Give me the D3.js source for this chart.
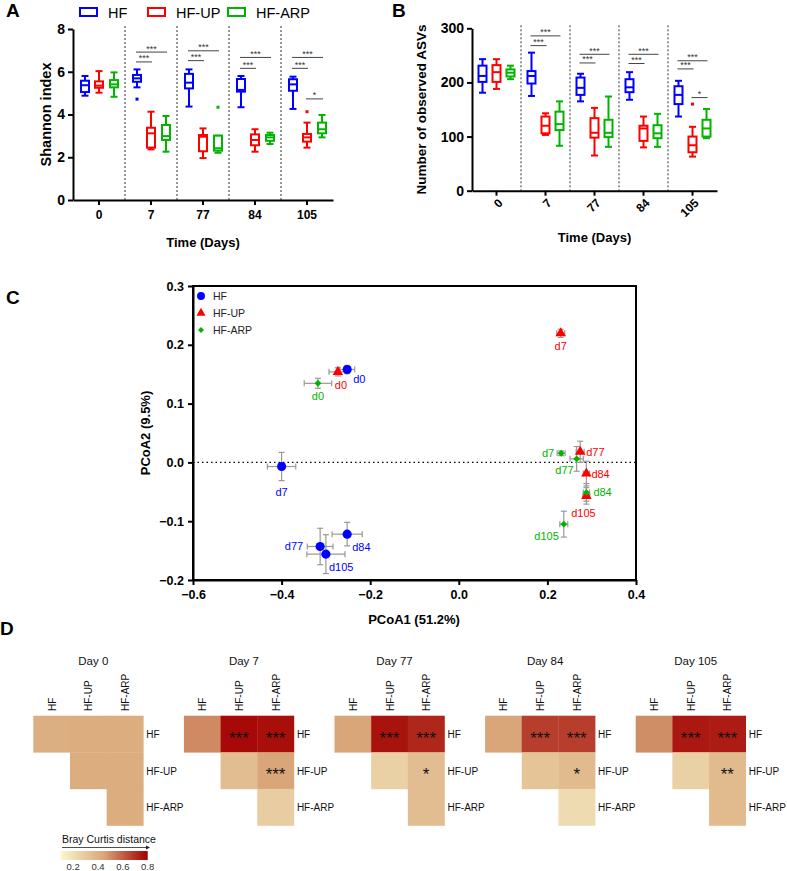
<!DOCTYPE html>
<html><head><meta charset="utf-8">
<script src="https://cdn.jsdelivr.net/npm/d3@7"></script>
<style>body{margin:0;background:#fff;} svg{font-family:"Liberation Sans",Arial,sans-serif;}</style>
</head><body><svg id="c" width="787" height="871"></svg>
<script>
// ---------- DATA ----------
const days = ["0","7","77","84","105"];
const groups = ["HF","HF-UP","HF-ARP"];
const groupColors = ["#0000ff","#ff0000","#00b400"];

// Panel A: Shannon index, [min, q1, median, q3, max] per day
const shannonHF  = [[4.88,5.05,5.37,5.58,5.80],[5.27,5.53,5.69,5.85,6.11],[4.37,5.22,5.49,5.90,6.11],[4.34,5.07,5.15,5.66,5.80],[4.26,5.11,5.41,5.65,5.77]];
const shannonUP  = [[5.02,5.25,5.35,5.55,6.03],[2.37,2.45,3.12,3.38,4.13],[1.96,2.28,2.96,3.04,3.35],[2.26,2.56,2.81,3.07,3.31],[2.45,2.73,2.93,3.09,3.62]];
const shannonARP = [[4.83,5.27,5.41,5.61,5.97],[2.26,2.81,2.99,3.51,3.93],[2.21,2.31,2.42,3.01,3.01],[2.62,2.77,2.93,3.04,3.15],[2.93,3.12,3.31,3.62,3.98]];
const shannonOutliers = [[1,0,4.72],[2,2,4.34],[4,1,4.13]]; // [day index, group index, value]
const shannonSig = [[1,0,1,6.46,"***"],[1,0,2,6.92,"***"],[2,0,1,6.52,"***"],[2,0,2,6.98,"***"],
                    [3,0,1,6.16,"***"],[3,0,2,6.67,"***"],[4,0,1,6.16,"***"],[4,0,2,6.67,"***"],[4,1,2,4.73,"*"]];
const shannonTicks = [0,2,4,6,8];

// Panel B: observed ASVs, [min, q1, median, q3, max] per day
const asvHF  = [[181,201,212,231,243],[175,198,212,221,255],[165,177,190,209,216],[168,182,191,206,219],[137,160,177,193,203]];
const asvUP  = [[188,201,219,232,243],[103,106,120,137,143],[65,98,107,134,153],[80,92,115,120,137],[63,71,84,100,118]];
const asvARP = [[206,211,218,224,231],[83,112,123,146,165],[81,99,107,131,174],[81,97,106,121,142],[97,100,115,131,151]];
const asvOutliers = [[4,1,160]];
const asvSig = [[1,0,1,268,"***"],[1,0,2,286,"***"],[2,0,1,236,"***"],[2,0,2,252,"***"],
                [3,0,1,235,"***"],[3,0,2,252,"***"],[4,0,1,225,"***"],[4,0,2,240,"***"],[4,1,2,172,"*"]];
const asvTicks = [0,100,200,300];

// Panel C: PCoA centroids with error bars
const pcoaDays = ["d0","d7","d77","d84","d105"];
const hfX  = [-0.252,-0.400,-0.313,-0.252,-0.300];
const hfY  = [0.158,-0.007,-0.143,-0.122,-0.156];
const hfXerr = [0.017,0.032,0.029,0.034,0.043];
const hfYerr = [0.007,0.024,0.031,0.020,0.033];
const upX  = [-0.273,0.230,0.274,0.288,0.288];
const upY  = [0.154,0.2195,0.018,-0.019,-0.057];
const upXerr = [0.020,0.009,0.009,0.007,0.008];
const upYerr = [0.007,0.007,0.018,0.021,0.014];
const arpX = [-0.318,0.231,0.266,0.288,0.237];
const arpY = [0.1345,0.0155,0.006,-0.051,-0.105];
const arpXerr = [0.031,0.009,0.015,0.007,0.009];
const arpYerr = [0.0085,0.004,0.021,0.015,0.022];
const pcoaXTicks = [-0.6,-0.4,-0.2,0.0,0.2,0.4];
const pcoaYTicks = [-0.2,-0.1,0.0,0.1,0.2,0.3];

// Panel D: Bray Curtis distance, upper triangle [HF-HF, HF-UP, HF-ARP, UP-UP, UP-ARP, ARP-ARP]
const heatDays = ["Day 0","Day 7","Day 77","Day 84","Day 105"];
const brayDay0   = [0.41,0.42,0.42,0.42,0.42,0.42];
const brayDay7   = [0.51,0.78,0.77,0.35,0.45,0.28];
const brayDay77  = [0.45,0.76,0.72,0.27,0.35,0.35];
const brayDay84  = [0.45,0.67,0.67,0.32,0.36,0.22];
const brayDay105 = [0.50,0.75,0.74,0.27,0.36,0.36];
const sigDay0   = ["","","","","",""];
const sigDay7   = ["","***","***","","***",""];
const sigDay77  = ["","***","***","","*",""];
const sigDay84  = ["","***","***","","*",""];
const sigDay105 = ["","***","***","","**",""];
const colorbarTicks = [0.2,0.4,0.6,0.8];

// ---------- DRAW ----------
const svg = d3.select("#c");
const FONT = '"Liberation Sans",Arial,sans-serif';

function panelLetter(t,x,y){svg.append("text").attr("x",x).attr("y",y).attr("font-size",19).attr("font-weight","bold").text(t);}
panelLetter("A",6,17); panelLetter("B",392,17); panelLetter("C",6,304); panelLetter("D",0,635);

function styleAxis(g){
  g.selectAll(".domain").attr("stroke","#000").attr("stroke-width",2);
  g.selectAll(".tick line").attr("stroke","#000").attr("stroke-width",2);
  g.selectAll(".tick text").attr("font-family",FONT).attr("font-weight","bold").attr("fill","#000");
}

function boxPanel(o){
  const g = svg.append("g");
  const x = d3.scaleBand().domain(days).range([o.x0,o.x1]);
  const y = d3.scaleLinear().domain(o.domain).range([o.yBot,o.yTop]);
  const bw = x.bandwidth();
  const cx = (di,gi)=> x(days[di]) + bw/2 + o.offsets[gi];
  for(let i=1;i<days.length;i++){
    g.append("line").attr("x1",x(days[i])).attr("x2",x(days[i])).attr("y1",o.yTop-3).attr("y2",o.yBot)
     .attr("stroke","#333").attr("stroke-width",1).attr("stroke-dasharray","2,2");
  }
  o.data.forEach((series,gi)=>{
    series.forEach((s,di)=>{
      const c = cx(di,gi), col = groupColors[gi], hw = o.boxW/2, cw=3.5;
      const bg = g.append("g").attr("stroke",col).attr("stroke-width",2).attr("fill","none");
      bg.append("line").attr("x1",c).attr("x2",c).attr("y1",y(s[0])).attr("y2",y(s[1]));
      bg.append("line").attr("x1",c).attr("x2",c).attr("y1",y(s[3])).attr("y2",y(s[4]));
      bg.append("line").attr("x1",c-cw).attr("x2",c+cw).attr("y1",y(s[0])).attr("y2",y(s[0]));
      bg.append("line").attr("x1",c-cw).attr("x2",c+cw).attr("y1",y(s[4])).attr("y2",y(s[4]));
      bg.append("rect").attr("x",c-hw).attr("width",o.boxW).attr("y",y(s[3])).attr("height",Math.max(0.5,y(s[1])-y(s[3]))).attr("fill","#fff");
      bg.append("line").attr("x1",c-hw).attr("x2",c+hw).attr("y1",y(s[2])).attr("y2",y(s[2]));
    });
  });
  o.outliers.forEach(([di,gi,v])=>{
    g.append("rect").attr("x",cx(di,gi)-1.5).attr("y",y(v)-1.5).attr("width",3).attr("height",3).attr("fill",groupColors[gi]);
  });
  o.sig.forEach(([di,g1,g2,v,lab])=>{
    const a = cx(di,g1)-1, b = cx(di,g2)+1;
    g.append("line").attr("x1",a).attr("x2",b).attr("y1",y(v)).attr("y2",y(v)).attr("stroke","#444").attr("stroke-width",1);
    g.append("text").attr("x",(a+b)/2).attr("y",y(v)-0.5).attr("text-anchor","middle").attr("font-size",9).attr("fill","#333").text(lab);
  });
  const ay = g.append("g").attr("transform",`translate(${o.x0},0)`)
    .call(d3.axisLeft(y).tickValues(o.ticks).tickSize(5).tickSizeOuter(0).tickPadding(3));
  styleAxis(ay); ay.selectAll(".tick text").attr("font-size",14);
  const ax = g.append("g").attr("transform",`translate(0,${o.yBot})`)
    .call(d3.axisBottom(x).tickSize(5).tickSizeOuter(0).tickPadding(5));
  styleAxis(ax); ax.selectAll(".tick text").attr("font-size",12);
  if(o.rotate){
    ax.selectAll(".tick text").attr("text-anchor","end").attr("dy","0.35em")
      .attr("transform","translate(4,10) rotate(-45)").attr("x",0).attr("y",0);
  }
  g.append("text").attr("transform",`translate(${o.yTitleX},${(o.yTop+o.yBot)/2}) rotate(-90)`)
    .attr("text-anchor","middle").attr("font-size",o.yTitleSize).attr("font-weight","bold").text(o.yTitle);
  g.append("text").attr("x",(o.x0+o.x1)/2).attr("y",o.xTitleY).attr("text-anchor","middle")
    .attr("font-size",13).attr("font-weight","bold").text("Time (Days)");
}

boxPanel({x0:73,x1:333,yTop:29,yBot:200,domain:[0,8],ticks:shannonTicks,offsets:[-14,0,15],boxW:8,
  data:[shannonHF,shannonUP,shannonARP],outliers:shannonOutliers,sig:shannonSig,
  yTitle:"Shannon index",yTitleX:51,yTitleSize:14.5,xTitleY:247,rotate:false});
boxPanel({x0:472,x1:717,yTop:28.3,yBot:190.7,domain:[0,300],ticks:asvTicks,offsets:[-14,0,14],boxW:8,
  data:[asvHF,asvUP,asvARP],outliers:asvOutliers,sig:asvSig,
  yTitle:"Number of observed ASVs",yTitleX:426,yTitleSize:13.5,xTitleY:242,rotate:true});

const legX = [80,148,228];
groups.forEach((gname,i)=>{
  svg.append("rect").attr("x",legX[i]).attr("y",8).attr("width",17).attr("height",8)
    .attr("fill","none").attr("stroke",groupColors[i]).attr("stroke-width",2);
  svg.append("text").attr("x",legX[i]+28).attr("y",17.5).attr("font-size",14.5).text(gname);
});

// ---------- Panel C ----------
(function(){
  const g = svg.append("g");
  const x = d3.scaleLinear().domain([-0.6,0.4]).range([193,636]);
  const y = d3.scaleLinear().domain([-0.2,0.3]).range([580,286]);
  g.append("rect").attr("x",193).attr("y",286).attr("width",443).attr("height",294)
    .attr("fill","none").attr("stroke","#000").attr("stroke-width",2);
  g.append("line").attr("x1",193).attr("x2",636).attr("y1",y(0)).attr("y2",y(0))
    .attr("stroke","#000").attr("stroke-width",1.3).attr("stroke-dasharray","1.5,3");
  const fmt = d3.format(".1f");
  const ax = g.append("g").attr("transform","translate(0,580)")
    .call(d3.axisBottom(x).tickValues(pcoaXTicks).tickFormat(fmt).tickSize(5).tickSizeOuter(0).tickPadding(5));
  styleAxis(ax); ax.selectAll(".tick text").attr("font-size",12.5);
  const ay = g.append("g").attr("transform","translate(193,0)")
    .call(d3.axisLeft(y).tickValues(pcoaYTicks).tickFormat(fmt).tickSize(5).tickSizeOuter(0).tickPadding(4));
  styleAxis(ay); ay.selectAll(".tick text").attr("font-size",12.5);
  g.append("text").attr("x",414).attr("y",624).attr("text-anchor","middle").attr("font-size",13).attr("font-weight","bold").text("PCoA1 (51.2%)");
  g.append("text").attr("transform",`translate(150,433) rotate(-90)`).attr("text-anchor","middle").attr("font-size",13).attr("font-weight","bold").text("PCoA2 (9.5%)");

  const series = [
    {xs:hfX,ys:hfY,xe:hfXerr,ye:hfYerr,sym:d3.symbolCircle,size:66,rot:0,
     lab:[[6,14,"start"],[0,29,"middle"],[-17,4,"end"],[5,17,"start"],[3,17,"start"]]},
    {xs:upX,ys:upY,xe:upXerr,ye:upYerr,sym:d3.symbolTriangle,size:48,rot:0,
     lab:[[-3,17,"start"],[0,17,"middle"],[6,4,"start"],[5,4,"start"],[-3,21,"middle"]]},
    {xs:arpX,ys:arpY,xe:arpXerr,ye:arpYerr,sym:d3.symbolSquare,size:24,rot:45,
     lab:[[0,17,"middle"],[-7,4,"end"],[-3,15,"end"],[7,4,"start"],[-5,16,"end"]]}
  ];
  series.forEach(s=>{
    s.xs.forEach((xv,i)=>{
      const px=x(xv), py=y(s.ys[i]);
      const eg = g.append("g").attr("stroke","#999").attr("stroke-width",1.2);
      const xl=x(xv-s.xe[i]), xr=x(xv+s.xe[i]), yt=y(s.ys[i]+s.ye[i]), yb=y(s.ys[i]-s.ye[i]);
      eg.append("line").attr("x1",xl).attr("x2",xr).attr("y1",py).attr("y2",py);
      eg.append("line").attr("x1",xl).attr("x2",xl).attr("y1",py-3).attr("y2",py+3);
      eg.append("line").attr("x1",xr).attr("x2",xr).attr("y1",py-3).attr("y2",py+3);
      eg.append("line").attr("x1",px).attr("x2",px).attr("y1",yt).attr("y2",yb);
      eg.append("line").attr("x1",px-3).attr("x2",px+3).attr("y1",yt).attr("y2",yt);
      eg.append("line").attr("x1",px-3).attr("x2",px+3).attr("y1",yb).attr("y2",yb);
    });
  });
  series.forEach((s,si)=>{
    const col = groupColors[si];
    s.xs.forEach((xv,i)=>{
      const px=x(xv), py=y(s.ys[i]);
      g.append("path").attr("d",d3.symbol().type(s.sym).size(s.size)())
        .attr("transform",`translate(${px},${py}) rotate(${s.rot})`).attr("fill",col);
      const [dx,dy,anc] = s.lab[i];
      g.append("text").attr("x",px+dx).attr("y",py+dy).attr("text-anchor",anc)
        .attr("font-size",11).attr("fill",col).text(pcoaDays[i]);
    });
  });
  const ly=[296,313,330];
  series.forEach((s,si)=>{
    g.append("path").attr("d",d3.symbol().type(s.sym).size(s.size*0.75)())
      .attr("transform",`translate(201,${ly[si]}) rotate(${s.rot})`).attr("fill",groupColors[si]);
    g.append("text").attr("x",213).attr("y",ly[si]+3.7).attr("font-size",10.5).attr("fill","#222").text(groups[si]);
  });
})();

// ---------- Panel D ----------
(function(){
  const color = d3.scaleLinear().domain([0.1,0.45,0.8]).range(["#fbf7cf","#d8a678","#a30000"]);
  const allBray = [brayDay0,brayDay7,brayDay77,brayDay84,brayDay105];
  const allSig = [sigDay0,sigDay7,sigDay77,sigDay84,sigDay105];
  const lefts = d3.scaleBand().domain(heatDays).range([33.3,786.3]);
  const cellsIdx = [[0,0],[0,1],[0,2],[1,1],[1,2],[2,2]];
  heatDays.forEach((d,k)=>{
    const gx = lefts(d);
    const cs = d3.scaleBand().domain(groups).range([gx,gx+110]);
    const rs = d3.scaleBand().domain(groups).range([715.7,825.5]);
    const g = svg.append("g");
    allBray[k].forEach((v,ci)=>{
      const [r,c]=cellsIdx[ci];
      g.append("rect").attr("x",cs(groups[c])).attr("y",rs(groups[r])).attr("width",cs.bandwidth()+0.3).attr("height",rs.bandwidth()+0.3)
        .attr("fill",color(v));
      if(allSig[k][ci]) g.append("text").attr("x",cs(groups[c])+cs.bandwidth()/2).attr("y",rs(groups[r])+rs.bandwidth()/2+9.5)
        .attr("text-anchor","middle").attr("font-size",17).attr("fill","#111").text(allSig[k][ci]);
    });
    groups.forEach(gr=>{
      g.append("text").attr("x",gx+113).attr("y",rs(gr)+rs.bandwidth()/2+4).attr("font-size",10).attr("fill","#111").text(gr);
      g.append("text").attr("transform",`translate(${cs(gr)+cs.bandwidth()/2+4},711) rotate(-90)`)
        .attr("font-size",10).attr("fill","#111").text(gr);
    });
    g.append("text").attr("x",gx+60).attr("y",665).attr("text-anchor","middle").attr("font-size",11.5).attr("fill","#111").text(d);
  });
  const cb = d3.scaleLinear().domain([0.1,0.8]).range([60.7,147.7]);
  const grad = svg.append("defs").append("linearGradient").attr("id","cbg");
  d3.range(0,1.0001,0.1).forEach(t=>{
    grad.append("stop").attr("offset",t).attr("stop-color",color(0.1+0.7*t));
  });
  svg.append("rect").attr("x",cb(0.1)).attr("y",851).attr("width",cb(0.8)-cb(0.1)).attr("height",9).attr("fill","url(#cbg)");
  colorbarTicks.forEach(t=>{
    svg.append("text").attr("x",cb(t)).attr("y",870).attr("text-anchor","middle").attr("font-size",9.5).attr("fill","#333").text(t.toFixed(1));
  });
  svg.append("text").attr("x",62).attr("y",843).attr("font-size",10.5).attr("fill","#111").text("Bray Curtis distance");
  svg.append("line").attr("x1",62).attr("x2",146).attr("y1",847.5).attr("y2",847.5).attr("stroke","#222").attr("stroke-width",0.8);
  svg.append("path").attr("d","M146,845.5 L150,847.5 L146,849.5 Z").attr("fill","#222");
})();
</script></body></html>
